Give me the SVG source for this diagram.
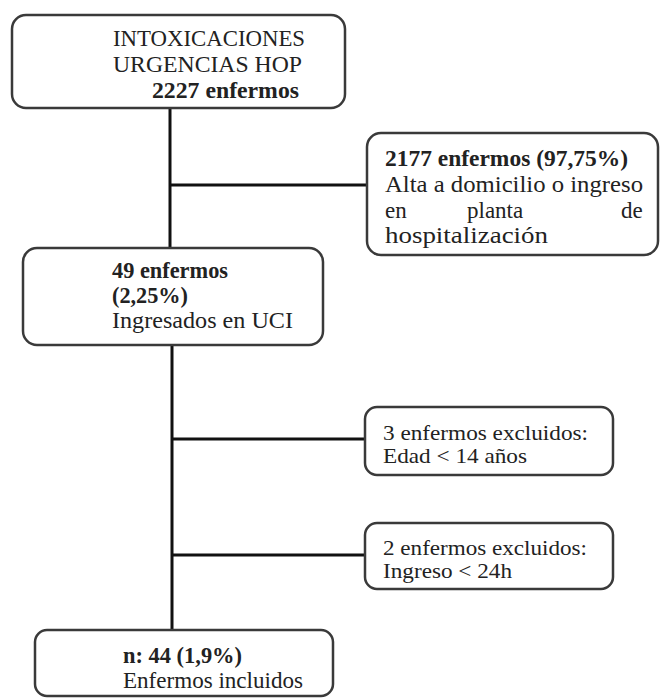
<svg xmlns="http://www.w3.org/2000/svg" width="662" height="700" viewBox="0 0 662 700">
<style>
.box{fill:#fff;stroke:#3a3a3a;stroke-width:2.5}
.t{font-family:"Liberation Serif","Times New Roman",serif;font-size:23px;fill:#222}
.s{font-size:21px}
.b{font-weight:bold}
.c{stroke:#111;stroke-width:3;fill:none}
</style>
<rect width="662" height="700" fill="#fff"/>
<g id="connectors">
<line class="c" x1="170" y1="108" x2="170" y2="248"/>
<line class="c" x1="170" y1="185" x2="367" y2="185"/>
<line class="c" x1="172" y1="345" x2="172" y2="630"/>
<line class="c" x1="172" y1="439" x2="365" y2="439"/>
<line class="c" x1="172" y1="555" x2="365" y2="555"/>
</g>
<g id="n1">
<rect class="box" x="12" y="15" width="333" height="93" rx="14"/>
<text class="t" x="113" y="46" textLength="192" lengthAdjust="spacingAndGlyphs">INTOXICACIONES</text>
<text class="t" x="113" y="72" textLength="189" lengthAdjust="spacingAndGlyphs">URGENCIAS HOP</text>
<text class="t b" x="152" y="98" textLength="147" lengthAdjust="spacingAndGlyphs">2227 enfermos</text>
</g>
<g id="n2">
<rect class="box" x="367" y="133" width="291" height="122" rx="14"/>
<text class="t b" x="385" y="166" textLength="243" lengthAdjust="spacingAndGlyphs">2177 enfermos (97,75%)</text>
<text class="t" x="385" y="192" textLength="258" lengthAdjust="spacingAndGlyphs">Alta a domicilio o ingreso</text>
<text class="t" y="218"><tspan x="385">en</tspan><tspan x="467">planta</tspan><tspan x="621">de</tspan></text>
<text class="t" x="385" y="243" textLength="163" lengthAdjust="spacingAndGlyphs">hospitalización</text>
</g>
<g id="n3">
<rect class="box" x="23" y="248" width="300" height="97" rx="14"/>
<text class="t b" x="112" y="278" textLength="116" lengthAdjust="spacingAndGlyphs">49 enfermos</text>
<text class="t b" x="112" y="303" textLength="76" lengthAdjust="spacingAndGlyphs">(2,25%)</text>
<text class="t" x="112" y="328" textLength="181" lengthAdjust="spacingAndGlyphs">Ingresados en UCI</text>
</g>
<g id="n4">
<rect class="box" x="365" y="407" width="248" height="68" rx="12"/>
<text class="t s" x="383" y="440" textLength="205" lengthAdjust="spacingAndGlyphs">3 enfermos excluidos:</text>
<text class="t s" x="383" y="463" textLength="144" lengthAdjust="spacingAndGlyphs">Edad &lt; 14 años</text>
</g>
<g id="n5">
<rect class="box" x="365" y="523" width="248" height="66" rx="12"/>
<text class="t s" x="383" y="555" textLength="204" lengthAdjust="spacingAndGlyphs">2 enfermos excluidos:</text>
<text class="t s" x="383" y="578" textLength="129" lengthAdjust="spacingAndGlyphs">Ingreso &lt; 24h</text>
</g>
<g id="n6">
<rect class="box" x="35" y="630" width="298" height="66" rx="12"/>
<text class="t b" x="123" y="663" textLength="119" lengthAdjust="spacingAndGlyphs">n: 44 (1,9%)</text>
<text class="t" x="123" y="688" textLength="180" lengthAdjust="spacingAndGlyphs">Enfermos incluidos</text>
</g>
</svg>
